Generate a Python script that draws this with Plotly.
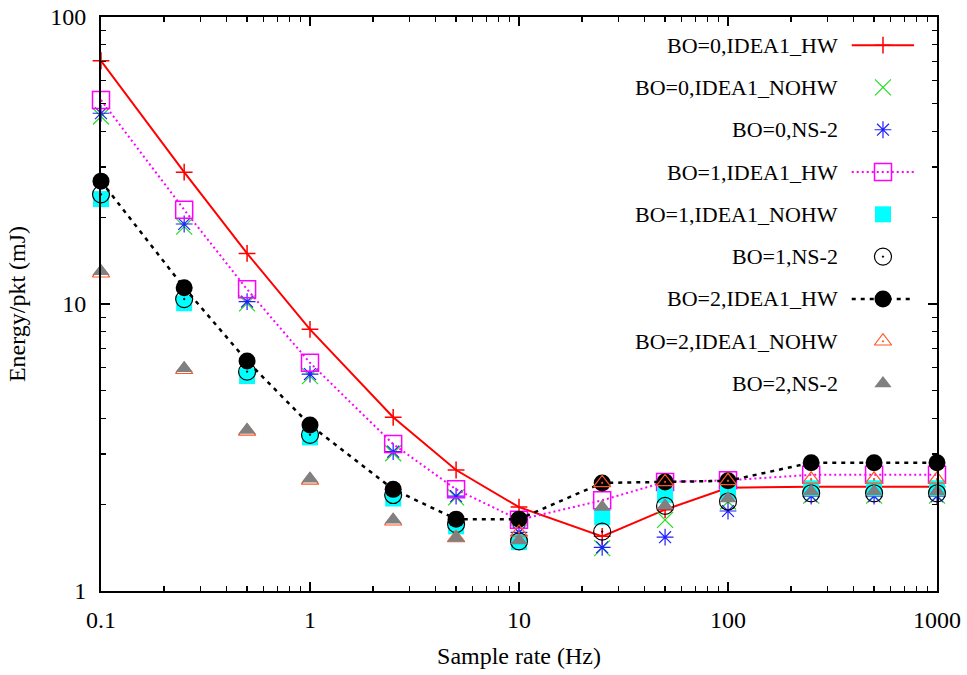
import plotly.graph_objects as go

# ---------------- data ----------------
sample_rate = [0.1, 0.25, 0.5, 1, 2.5, 5, 10, 25, 50, 100, 250, 500, 1000]

bo0_idea1_hw   = [70.4, 28.8, 15.0, 8.16, 4.03, 2.64, 1.96, 1.55, 1.92, 2.29, 2.31, 2.31, 2.31]
bo0_idea1_nohw = [45.0, 18.6, 10.05, 5.61, 3.02, 2.12, 1.60, 1.41, 1.77, 2.05, 2.15, 2.15, 2.15]
bo0_ns2        = [46.2, 19.0, 10.2, 5.70, 3.06, 2.14, 1.60, 1.42, 1.54, 1.90, 2.14, 2.14, 2.14]
bo1_idea1_hw   = [51.4, 21.3, 11.25, 6.24, 3.25, 2.26, 1.77, 2.07, 2.40, 2.43, 2.54, 2.54, 2.54]
bo1_idea1_nohw = [23.2, 10.06, 5.61, 3.43, 2.10, 1.68, 1.48, 1.81, 2.16, 2.22, 2.28, 2.28, 2.28]
bo1_ns2        = [24.1, 10.4, 5.81, 3.50, 2.16, 1.71, 1.49, 1.61, 1.98, 2.05, 2.19, 2.19, 2.19]
bo2_idea1_hw   = [26.8, 11.4, 6.33, 3.79, 2.26, 1.78, 1.78, 2.38, 2.40, 2.42, 2.80, 2.80, 2.80]
bo2_idea1_nohw = [12.8, 5.9, 3.6, 2.43, 1.75, 1.53, 1.60, 2.38, 2.40, 2.42, 2.45, 2.45, 2.45]
bo2_ns2        = [13.0, 5.97, 3.64, 2.46, 1.77, 1.53, 1.50, 1.96, 1.98, 2.10, 2.22, 2.22, 2.22]

series_names = ["BO=0,IDEA1_HW", "BO=0,IDEA1_NOHW", "BO=0,NS-2",
                "BO=1,IDEA1_HW", "BO=1,IDEA1_NOHW", "BO=1,NS-2",
                "BO=2,IDEA1_HW", "BO=2,IDEA1_NOHW", "BO=2,NS-2"]
series_values = [bo0_idea1_hw, bo0_idea1_nohw, bo0_ns2,
                 bo1_idea1_hw, bo1_idea1_nohw, bo1_ns2,
                 bo2_idea1_hw, bo2_idea1_nohw, bo2_ns2]

x_tickvals = [0.1, 1, 10, 100, 1000]
x_ticktext = ["0.1", "1", "10", "100", "1000"]
y_tickvals = [1, 10, 100]
y_ticktext = ["1", "10", "100"]

# ---------------- styles ----------------
styles = [
    dict(mode="lines+markers", line=dict(color="#ff0000", width=2),
         marker=dict(symbol="cross-thin", size=12, color="#ff0000", line=dict(color="#ff0000", width=1.5))),
    dict(mode="markers",
         marker=dict(symbol="x-thin", size=16, color="#00ee00", line=dict(color="#22dd22", width=1.2))),
    dict(mode="markers",
         marker=dict(symbol="asterisk", size=14, color="#0000ff", line=dict(color="#2020ff", width=1.2))),
    dict(mode="lines+markers", line=dict(color="#ff00ff", width=2, dash="2px,3px"),
         marker=dict(symbol="square-open", size=17, color="#ff00ff", line=dict(color="#ff00ff", width=1.5))),
    dict(mode="markers",
         marker=dict(symbol="square", size=16, color="#00ffff", line=dict(width=0))),
    dict(mode="markers",
         marker=dict(symbol="circle-open-dot", size=17, color="#000000", line=dict(color="#000000", width=1.2))),
    dict(mode="lines+markers", line=dict(color="#000000", width=2.5, dash="4px,5px"),
         marker=dict(symbol="circle", size=17, color="#000000", line=dict(width=0))),
    dict(mode="markers",
         marker=dict(symbol="triangle-up-open-dot", size=15, color="#ff5522", line=dict(color="#ff5522", width=1.2))),
    dict(mode="markers",
         marker=dict(symbol="triangle-up", size=15, color="#808080", line=dict(width=0))),
]

fig = go.Figure()
for name, vals, st in zip(series_names, series_values, styles):
    fig.add_trace(go.Scatter(x=sample_rate, y=vals, name=name, showlegend=False,
                             cliponaxis=False, **st))

# ---------------- custom gnuplot-style legend (text left, sample right) ----------------
leg_top = 0.951
leg_step = 0.0737
sample_x0, sample_xc, sample_x1 = 0.898, 0.9354, 0.9725
text_x = 0.884
for i, (name, st) in enumerate(zip(series_names, styles)):
    yy = leg_top - i * leg_step
    if "lines" in st["mode"]:
        fig.add_trace(go.Scatter(x=[sample_x0, sample_x1], y=[yy, yy], mode="lines",
                                 line=st["line"], xaxis="x2", yaxis="y2",
                                 showlegend=False, hoverinfo="skip"))
    fig.add_trace(go.Scatter(x=[sample_xc], y=[yy], mode="markers", marker=st["marker"],
                             xaxis="x2", yaxis="y2", showlegend=False, hoverinfo="skip"))
    fig.add_annotation(x=text_x, y=yy, xref="paper", yref="paper", text=name,
                       showarrow=False, xanchor="right", yanchor="middle",
                       font=dict(family="Liberation Serif", size=22, color="#000000"))

axis_common = dict(showgrid=False, zeroline=False, showline=True, linecolor="#000000",
                   linewidth=2, mirror="allticks", ticks="inside", ticklen=9,
                   tickwidth=1.5, tickcolor="#000000", automargin=False,
                   tickfont=dict(family="Liberation Serif", size=24, color="#000000"))

fig.update_layout(
    width=967, height=675,
    margin=dict(l=101, r=30, t=17, b=84, autoexpand=False),
    paper_bgcolor="white", plot_bgcolor="white",
    font=dict(family="Liberation Serif", size=24, color="#000000"),
    showlegend=False,
    hovermode=False,
    xaxis=dict(type="log", range=[-1, 3], tickvals=x_tickvals, ticktext=x_ticktext,
               title=dict(text="Sample rate (Hz)", standoff=15,
                          font=dict(family="Liberation Serif", size=24)),
               ticklabelstandoff=6,
               minor=dict(ticks="inside", ticklen=5, tickwidth=1.2, tickcolor="#000000",
                          dtick="D1", showgrid=False),
               **axis_common),
    yaxis=dict(type="log", range=[0, 2], tickvals=y_tickvals, ticktext=y_ticktext,
               title=dict(text="Energy/pkt (mJ)", standoff=18,
                          font=dict(family="Liberation Serif", size=24)),
               ticklabelstandoff=8,
               minor=dict(ticks="inside", ticklen=5, tickwidth=1.2, tickcolor="#000000",
                          dtick="D1", showgrid=False),
               **axis_common),
    xaxis2=dict(range=[0, 1], overlaying="x", visible=False, fixedrange=True),
    yaxis2=dict(range=[0, 1], overlaying="y", visible=False, fixedrange=True),
)

fig.write_html("out.html",
               config={"displayModeBar": False, "staticPlot": True},
               post_script="document.body.style.margin='0px';document.body.style.overflow='hidden';")
